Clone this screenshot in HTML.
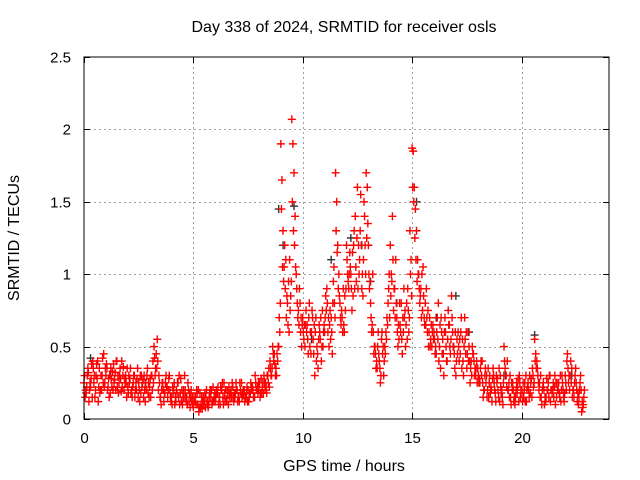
<!DOCTYPE html>
<html><head><meta charset="utf-8"><style>
html,body{margin:0;padding:0;background:#fff}
svg{display:block;font-family:"Liberation Sans",sans-serif}
</style></head><body>
<svg id="chart" width="640" height="480">
<text x="344" y="32" text-anchor="middle" font-size="16">Day 338 of 2024, SRMTID for receiver osls</text>
<text x="344" y="471" text-anchor="middle" font-size="16">GPS time / hours</text>
<text transform="translate(19,238) rotate(-90)" text-anchor="middle" font-size="16">SRMTID / TECUs</text>
<g id="grid"></g>
<g id="ticks"></g>
<g id="black-series"></g>
<g id="red-series"></g>
<rect x="84" y="57" width="525" height="362" fill="none" stroke="#000" stroke-width="1"/>
</svg>
<script>
const xTicks=[0,5,10,15,20];
const yTicks=[0,0.5,1,1.5,2,2.5];
const yTickLabels=["0","0.5","1","1.5","2","2.5"];
const startHour=0;
const stepHour=0.1;
const redA=[.25,.18,.32,.22,.4,.15,.28,.35,.2,.45,.3,.22,.18,.33,.27,.4,.25,.19,.36,.3,
.22,.28,.15,.3,.2,.25,.18,.27,.12,.35,.22,.3,.5,.45,.2,.15,.25,.18,.22,.3,
.15,.2,.12,.25,.18,.1,.3,.15,.12,.2,.08,.15,.1,.18,.07,.12,.2,.1,.15,.22,
.12,.18,.15,.2,.25,.14,.1,.18,.22,.15,.2,.12,.25,.17,.14,.2,.18,.22,.15,.2,
.2,.28,.18,.25,.3,.4,.35,.45,.3,.5,1.9,1.3,.9,.8,1.1,2.07,1.7,1.0,.75,.6,
.7,.5,.65,.8,.6,.45,.7,.35,.55,.75,.6,.9,.5,.7,.95,1.7,1.2,.8,.7,.6,
1.2,.9,1.0,.85,1.4,1.6,1.1,.9,1.5,1.7,1.2,.8,1.0,.5,.35,.4,.55,.3,.6,.8,
1.2,1.4,.9,.7,.55,.8,.6,.5,.9,1.3,1.87,1.6,1.3,1.0,.9,1.05,.8,.6,.7,.5,
.6,.45,.8,.35,.55,.7,.4,.65,.85,.5,.3,.6,.45,.55,.7,.35,.5,.4,.45,.3,
.35,.25,.4,.2,.3,.15,.22,.35,.18,.28,.12,.2,.5,.3,.2,.15,.25,.1,.18,.3,
.2,.15,.3,.25,.18,.35,.55,.4,.2,.15,.25,.12,.2,.3,.18,.22,.15,.25,.12,.2,
.3,.45,.2,.35,.15,.25,.1,.3,.08];
const redB=[.15,.3,.2,.38,.25,.3,.12,.2,.42,.25,.35,.15,.28,.38,.2,.3,.35,.22,.28,.15,
.3,.18,.25,.2,.35,.12,.22,.3,.2,.25,.15,.4,.3,.55,.25,.2,.12,.3,.2,.15,
.22,.1,.18,.3,.12,.2,.15,.25,.08,.15,.12,.2,.05,.1,.15,.08,.12,.18,.1,.15,
.2,.1,.22,.15,.12,.2,.18,.15,.12,.25,.15,.2,.18,.12,.22,.15,.2,.15,.25,.18,
.15,.22,.25,.18,.35,.3,.45,.3,.4,.6,1.65,1.05,.7,.95,.85,1.9,1.4,.8,.9,.5,
.55,.75,.45,.6,.7,.3,.5,.65,.4,.6,.85,.6,.75,.45,.8,1.5,1.0,.65,.9,.75,
1.0,1.15,.75,1.3,.95,1.2,1.55,.85,1.2,1.6,.9,.6,.45,.35,.6,.25,.45,.5,.7,1.0,
1.0,.75,1.1,.5,.65,.45,.7,.8,.6,1.1,1.85,1.45,1.1,.8,1.0,.7,.9,.5,.55,.65,
.45,.7,.5,.6,.3,.5,.75,.45,.6,.35,.55,.4,.7,.3,.45,.6,.25,.5,.3,.4,
.25,.4,.15,.35,.2,.3,.12,.25,.3,.15,.22,.1,.35,.4,.15,.25,.12,.2,.28,.15,
.12,.25,.2,.15,.28,.22,.45,.3,.15,.2,.1,.28,.15,.2,.25,.1,.2,.15,.3,.12,
.2,.25,.4,.2,.3,.12,.2,.05,.15];
const redC=[.3,.22,.12,.28,.35,.2,.4,.18,.3,.22,.38,.28,.35,.2,.32,.22,.3,.4,.2,.25,
.18,.35,.22,.15,.28,.2,.3,.15,.25,.18,.28,.2,.42,.35,.3,.1,.2,.25,.15,.2,
.1,.25,.2,.15,.28,.15,.2,.1,.18,.12,.15,.1,.2,.08,.12,.18,.1,.15,.2,.12,
.15,.22,.1,.25,.18,.12,.22,.2,.15,.18,.12,.25,.15,.2,.18,.12,.25,.2,.3,.22,
.25,.18,.3,.22,.25,.35,.5,.38,.45,.7,1.45,.95,1.1,.65,.75,1.5,1.2,.9,.65,.7,
.6,.65,.55,.5,.75,.65,.4,.55,.7,.5,.7,.8,.65,.6,1.05,1.3,.9,.7,.6,.85,
1.1,1.0,.9,1.2,1.05,.9,1.3,1.0,1.4,1.25,1.0,.7,.6,.45,.5,.35,.6,.4,.55,.9,
.85,1.1,.7,.6,.8,.55,.9,.65,.75,1.0,1.6,1.25,.95,.9,.7,.85,.65,.75,.5,.6,
.55,.6,.4,.7,.45,.6,.55,.5,.7,.45,.4,.5,.6,.4,.55,.45,.4,.3,.4,.35,
.3,.35,.25,.3,.15,.25,.2,.3,.12,.2,.3,.15,.4,.22,.25,.1,.2,.15,.22,.25,
.18,.2,.12,.2,.25,.3,.4,.35,.25,.1,.2,.15,.25,.12,.2,.3,.25,.18,.2,.15,
.25,.35,.3,.15,.25,.2,.15,.2,.1];
const redD=[.2,.35,.25,.15,.3,.38,.22,.3,.25,.35,.2,.3,.22,.25,.4,.18,.28,.3,.25,.35,
.25,.2,.3,.25,.15,.3,.25,.2,.3,.15,.3,.25,.35,.4,.15,.25,.18,.22,.28,.12,
.18,.15,.25,.1,.2,.15,.12,.2,.15,.1,.12,.18,.08,.15,.1,.15,.08,.2,.12,.18,
.18,.15,.2,.1,.2,.18,.15,.25,.18,.2,.15,.18,.2,.15,.12,.18,.22,.15,.2,.25,
.18,.25,.2,.3,.22,.3,.4,.35,.5,.8,1.05,1.2,.85,.6,.95,1.3,1.05,.7,.8,.65,
.65,.6,.7,.45,.55,.6,.45,.6,.5,.65,.75,.7,.55,.8,.7,1.15,.85,.75,.65,.9,
.95,1.05,1.15,.9,1.25,1.0,1.2,1.1,1.0,1.35,.95,.65,.5,.4,.45,.3,.5,.45,.65,.7,
.95,.9,.8,.65,.6,.7,.75,.55,.7,.85,1.5,1.1,1.0,.85,.75,.65,.7,.6,.65,.55,
.5,.55,.65,.45,.6,.4,.65,.55,.5,.6,.45,.55,.35,.5,.6,.4,.35,.45,.35,.25,
.28,.3,.2,.25,.35,.18,.28,.2,.25,.35,.18,.25,.3,.2,.3,.2,.15,.25,.12,.2,
.25,.12,.22,.3,.15,.25,.35,.25,.3,.22,.15,.2,.3,.2,.15,.25,.2,.3,.25,.18,
.4,.3,.25,.2,.35,.18,.25,.12,.2];
const blackHours=[0.3,1.2,2.8,8.9,9.1,9.6,10.4,11.3,12.2,12.7,13.1,14.3,15.2,16.1,17.0,17.6,19.2,20.6,22.3];
const blackVals=[0.42,0.3,0.25,1.45,1.2,1.47,0.55,1.1,1.25,1.2,0.95,0.8,1.5,0.7,0.85,0.6,0.3,0.58,0.3];

const NS="http://www.w3.org/2000/svg";
const X0=84,X1=609,Y0=419,Y1=57,XMAX=24,YMAX=2.5;
function xs(h){return X0+(X1-X0)*h/XMAX;}
function ys(v){return Y0-(Y0-Y1)*v/YMAX;}
const grid=document.getElementById('grid'),ticks=document.getElementById('ticks');
function line(g,x1,y1,x2,y2,st,dash){const l=document.createElementNS(NS,'line');l.setAttribute('x1',x1);l.setAttribute('y1',y1);l.setAttribute('x2',x2);l.setAttribute('y2',y2);l.setAttribute('stroke',st);if(dash)l.setAttribute('stroke-dasharray',dash);g.appendChild(l);return l;}
function text(g,x,y,s,anchor){const t=document.createElementNS(NS,'text');t.setAttribute('x',x);t.setAttribute('y',y);t.setAttribute('text-anchor',anchor);t.setAttribute('font-size','15');t.textContent=s;g.appendChild(t);return t;}
xTicks.forEach(v=>{const x=Math.round(xs(v))+0.5;
 if(v>0){const g=line(grid,x,Y1,x,Y0,'#a0a0a0','2,3');
 
 }
 line(ticks,x,Y0,x,Y0-6,'#000');line(ticks,x,Y1,x,Y1+6,'#000');
 const t=text(ticks,x,443,String(v),'middle');
 
 
});
yTicks.forEach((v,i)=>{const y=Math.round(ys(v))+0.5;
 if(v>0&&v<YMAX){const g=line(grid,X0,y,X1,y,'#a0a0a0','2,3');
 
 }
 line(ticks,X0,y,X0+6,y,'#000');line(ticks,X1,y,X1-6,y,'#000');
 const t=text(ticks,71,y+5,yTickLabels[i],'end');
 
 
});
function plus(g,h,v,col,name){const x=xs(h),y=ys(v);const p=document.createElementNS(NS,'path');
 p.setAttribute('d',`M${x-4} ${y}H${x+4}M${x} ${y-4}V${y+4}`);p.setAttribute('stroke',col);p.setAttribute('stroke-width','1.4');
 
 
 g.appendChild(p);}
const bg=document.getElementById('black-series'),rg=document.getElementById('red-series');
blackHours.forEach((h,i)=>plus(bg,h,blackVals[i],'#333','black-point'));
redA.forEach((v,i)=>plus(rg,startHour+i*stepHour,v,'#ff0000','red-point'));
redB.forEach((v,i)=>plus(rg,startHour+i*stepHour+stepHour/2,v,'#ff0000','red-point'));
redC.forEach((v,i)=>plus(rg,startHour+i*stepHour+stepHour/4,v,'#ff0000','red-point'));
redD.forEach((v,i)=>plus(rg,startHour+i*stepHour+3*stepHour/4,v,'#ff0000','red-point'));
</script>
</body></html>
